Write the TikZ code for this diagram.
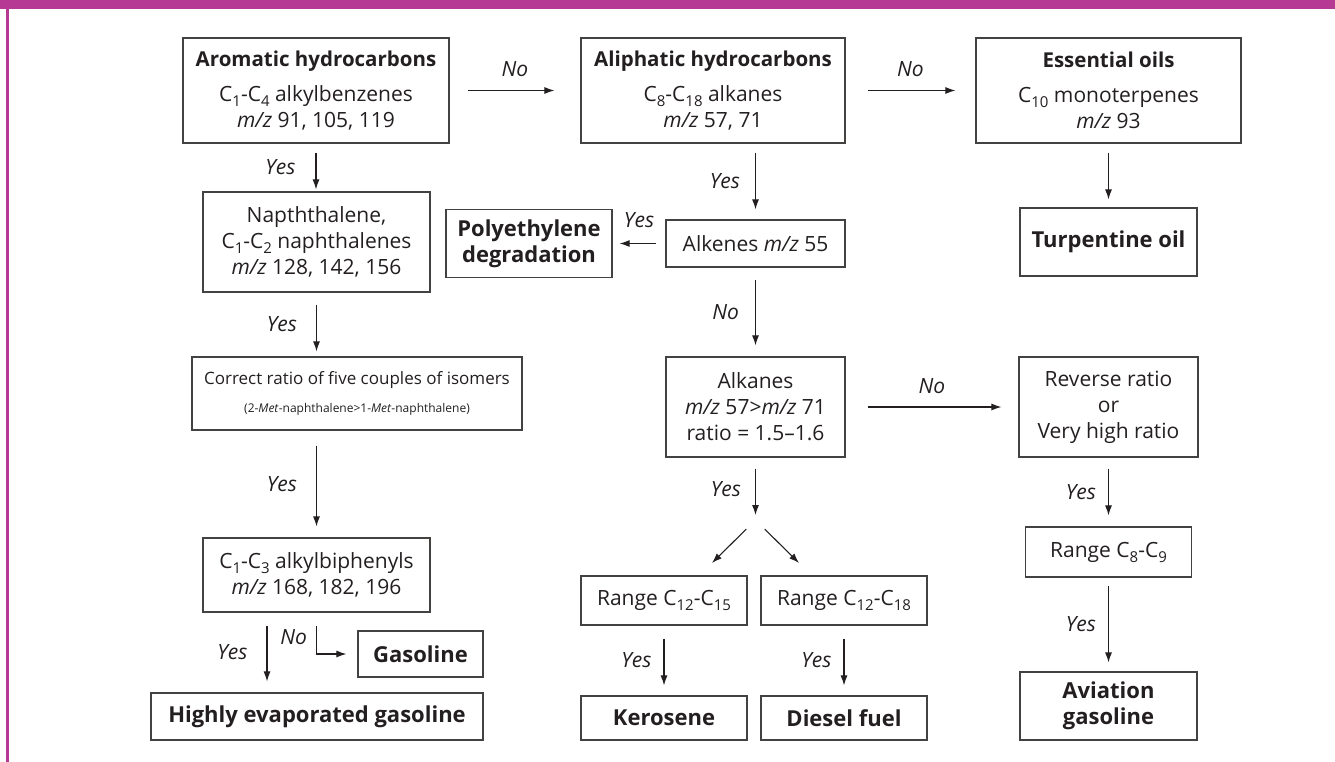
\documentclass[tikz,border=0pt]{standalone}
\usepackage{fontspec}
\setmainfont{Open Sans}
\usetikzlibrary{arrows.meta, positioning, calc}
\definecolor{framemag}{RGB}{182,58,148}
\definecolor{inkgrey}{RGB}{35,31,32}
\newcommand{\ix}[1]{\raisebox{-0.45ex}{\fontsize{15}{15}\selectfont #1}}
\newcommand{\mz}{\textit{m/z}}

\begin{document}
\begin{tikzpicture}[x=1pt, y=-1pt, inkgrey, font=\fontsize{21}{26}\selectfont,
    box/.style={draw=inkgrey!85, line width=1.2pt, align=center, inner sep=0pt},
    endbox/.style={box, font=\fontsize{22}{26}\selectfont\bfseries},
    flow/.style={-{Latex[length=10pt,width=7pt]}, line width=1.1pt, shorten <=9pt, shorten >=2pt},
    ans/.style={font=\fontsize{21}{24}\selectfont\itshape, inner sep=0pt}]
  \useasboundingbox (0,0) rectangle (1335,762);
  % frame
  \fill[framemag] (0,0) rectangle (1335,9);
  \draw[framemag, line width=2.5pt] (7.5,9) -- (7.5,762);

  % top row
  \node[box, minimum width=266pt, minimum height=105pt] (arom) at (316,90.5)
    {{\fontsize{20.5}{26}\selectfont\bfseries Aromatic hydrocarbons}\\[9pt] C\ix{1}-C\ix{4} alkylbenzenes\\ \mz{} 91, 105, 119};
  \node[box, minimum width=264pt, minimum height=105pt] (aliph) at (713,90.5)
    {{\fontsize{20.5}{26}\selectfont\bfseries Aliphatic hydrocarbons}\\[9pt] C\ix{8}-C\ix{18} alkanes\\ \mz{} 57, 71};
  \node[box, minimum width=265pt, minimum height=105pt] (ess) at (1108.5,90.5)
    {{\fontsize{20.5}{26}\selectfont\bfseries Essential oils}\\[9pt] C\ix{10} monoterpenes\\ \mz{} 93};
  \node[endbox, minimum width=177pt, minimum height=68pt] (turp) at (1108.5,242) {Turpentine oil};

  % aromatic branch
  \node[box, minimum width=227pt, minimum height=100pt] (naph) at (316.5,242)
    {Napththalene,\\ C\ix{1}-C\ix{2} naphthalenes\\ \mz{} 128, 142, 156};
  \node[box, minimum width=330pt, minimum height=73pt] (ratio) at (357,393.5)
    {{\fontsize{17}{20}\selectfont Correct ratio of five couples of isomers}\\[2pt]
     {\fontsize{12}{14}\selectfont (2-\textit{Met}-naphthalene>1-\textit{Met}-naphthalene)}};
  \node[box, minimum width=227pt, minimum height=74pt] (biph) at (316.5,575)
    {C\ix{1}-C\ix{3} alkylbiphenyls\\ \mz{} 168, 182, 196};
  \node[endbox, minimum width=125pt, minimum height=46pt] (gas) at (420.5,654) {Gasoline};
  \node[endbox, minimum width=332pt, minimum height=47pt] (high) at (317,716.5) {Highly evaporated gasoline};

  % aliphatic branch
  \node[box, minimum width=179pt, minimum height=47pt] (alkene) at (755.5,243.5) {Alkenes \mz{} 55};
  \node[endbox, minimum width=166pt, minimum height=68pt] (poly) at (529,243.5) {Polyethylene\\degradation};
  \node[box, minimum width=179pt, minimum height=100pt] (alkane) at (755.5,407)
    {Alkanes\\ \mz{} 57>\mz{} 71\\ ratio = 1.5--1.6};
  \node[box, minimum width=179pt, minimum height=100pt] (rev) at (1108.5,407)
    {Reverse ratio\\ or\\ Very high ratio};
  \node[box, minimum width=166pt, minimum height=49pt] (rng15) at (664,600.5) {Range C\ix{12}-C\ix{15}};
  \node[box, minimum width=166pt, minimum height=49pt] (rng18) at (844,600.5) {Range C\ix{12}-C\ix{18}};
  \node[box, minimum width=166pt, minimum height=50pt] (rng89) at (1108.5,552) {Range C\ix{8}-C\ix{9}};
  \node[endbox, minimum width=166pt, minimum height=44pt] (kero) at (664,718) {Kerosene};
  \node[endbox, minimum width=166pt, minimum height=44pt] (dies) at (844,718) {Diesel fuel};
  \node[endbox, minimum width=177pt, minimum height=68pt] (avia) at (1108.5,706) {Aviation\\gasoline};

  \coordinate (fork) at (755.5,520);
  \coordinate (forkl) at (712,563);
  \coordinate (forkr) at (799,563);

  % connectors
  \draw[flow, shorten <=18pt, shorten >=26pt] (arom) -- node[ans, above=13pt] {No} (aliph);
  \draw[flow, shorten <=22pt, shorten >=20pt] (aliph) -- node[ans, above=13pt] {No} (ess);
  \draw[flow, shorten >=8pt] (ess) -- (turp);
  \draw[flow] (arom.south) -- node[ans, left=20pt] {Yes} (arom.south |- naph.north);
  \draw[flow, shorten <=12pt, shorten >=5pt] (naph.south) -- node[ans, left=19pt] {Yes} (naph.south |- ratio.north);
  \draw[flow, shorten <=15pt, shorten >=11pt] (ratio.south -| naph.south) -- node[ans, left=19pt] {Yes} (biph.north);
  \draw[flow, shorten <=13pt, shorten >=11pt] ([xshift=-49.5pt]biph.south) -- node[ans, left=19pt] {Yes} ([xshift=-49.5pt]biph.south |- high.north);
  \draw[flow, shorten <=13pt, shorten >=11pt] (biph.south) |- node[ans, pos=0.3, left=9pt] {No} (gas.west);
  \draw[flow, shorten >=10pt] (alkene.north |- aliph.south) -- node[ans, left=15pt] {Yes} (alkene.north);
  \draw[flow, shorten >=7pt] (alkene.west) -- node[ans, above=15pt] {Yes} (poly.east);
  \draw[flow, shorten <=12pt, shorten >=11pt] (alkene) -- node[ans, left=16pt] {No} (alkane);
  \draw[flow, shorten <=22pt, shorten >=17pt] (alkane) -- node[ans, above=13pt] {No} (rev);
  \draw[flow, shorten <=11pt, shorten >=5pt] (alkane) -- node[ans, left=14pt] {Yes} (fork);
  \draw[flow, shorten <=13pt, shorten >=0pt] (fork) -- (forkl);
  \draw[flow, shorten <=13pt, shorten >=0pt] (fork) -- (forkr);
  \draw[flow, shorten <=13pt, shorten >=10pt] (rng15) -- node[ans, left=12pt] {Yes} (kero);
  \draw[flow, shorten <=13pt, shorten >=10pt] (rng18) -- node[ans, left=12pt] {Yes} (dies);
  \draw[flow, shorten <=11pt, shorten >=11pt] (rev) -- node[ans, left=12pt] {Yes} (rng89);
  \draw[flow, shorten <=8pt, shorten >=9pt] (rng89) -- node[ans, left=12pt] {Yes} (avia);
\end{tikzpicture}
\end{document}
